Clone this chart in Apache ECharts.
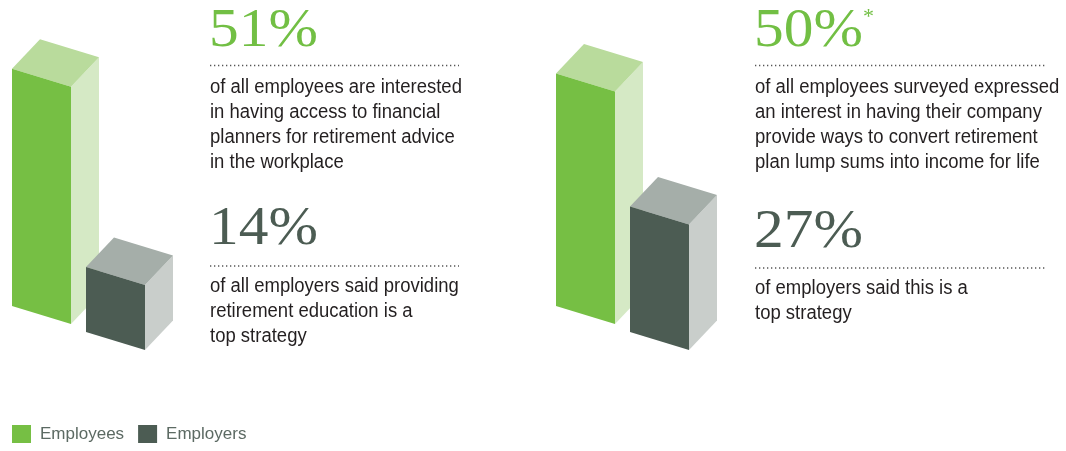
<!DOCTYPE html>
<html>
<head>
<meta charset="utf-8">
<script src="https://cdn.jsdelivr.net/npm/echarts@6/dist/echarts.min.js"></script>
<style>
  html, body { margin: 0; padding: 0; background: #ffffff; }
  #chart { width: 1066px; height: 451px; }
</style>
</head>
<body>
<div id="chart"></div>
<script>
// Survey topics, one 3D bar pair each
const groups = ['Financial planners', 'Lifetime income'];
const seriesNames = ['Employees', 'Employers'];
const employeesPct = [51, 50];
const employersPct = [14, 27];
const footnoteMarks = ['', '*'];
const employeeNotes = [
  ['of all employees are interested', 'in having access to financial', 'planners for retirement advice', 'in the workplace'],
  ['of all employees surveyed expressed', 'an interest in having their company', 'provide ways to convert retirement', 'plan lump sums into income for life']
];
const employerNotes = [
  ['of all employers said providing', 'retirement education is a', 'top strategy'],
  ['of employers said this is a', 'top strategy']
];

const palette = {
  Employees: { front: '#76bf44', top: '#b9db9c', side: '#d5e9c5' },
  Employers: { front: '#4c5c53', top: '#a5aea9', side: '#c9cecb' }
};

const BODY_FONT = '"Liberation Sans", Arial, sans-serif';
const NUM_FONT = '"Liberation Serif", "DejaVu Serif", serif';
const NARROW = 0.925; // squeeze body copy for a condensed look
const WIDE = 1.1;     // widen the big figures

// Isometric box: front face, top face and right side face
function boxRenderer(faces, groundShift) {
  return function (params, api) {
    const cat = api.value(0);
    const base = api.coord([cat, 0]);
    const top = api.coord([cat, api.value(1)]);
    const h = base[1] - top[1];
    const x = base[0] + groundShift[0];
    const yb = base[1] + groundShift[1];
    const w = 59, slope = 18, dx = 28, dy = -29.5;
    const bl = [x, yb], br = [x + w, yb + slope];
    const tr = [x + w, yb + slope - h], tl = [x, yb - h];
    const back = p => [p[0] + dx, p[1] + dy];
    return {
      type: 'group',
      children: [
        { type: 'polygon', shape: { points: [br, tr, back(tr), back(br)] }, style: { fill: faces.side } },
        { type: 'polygon', shape: { points: [tl, tr, back(tr), back(tl)] }, style: { fill: faces.top } },
        { type: 'polygon', shape: { points: [bl, br, tr, tl] }, style: { fill: faces.front } }
      ]
    };
  };
}

// Text blocks beside each bar pair
const textX = [209, 754];
const ruleEnd = [459, 1046];
const graphics = [];
groups.forEach((g, i) => {
  const x = textX[i];
  graphics.push({
    type: 'text', x: x, y: 5, scaleX: WIDE,
    style: { text: employeesPct[i] + '%', font: '54px ' + NUM_FONT, fill: '#72bf44', verticalAlign: 'top' }
  });
  if (footnoteMarks[i]) {
    graphics.push({
      type: 'text', x: x + 109, y: 6,
      style: { text: footnoteMarks[i], font: '22px ' + NUM_FONT, fill: '#72bf44', verticalAlign: 'top' }
    });
  }
  graphics.push({
    type: 'line', shape: { x1: x + 1, y1: 65.5, x2: ruleEnd[i], y2: 65.5 },
    style: { stroke: '#555', lineWidth: 1.3, lineDash: [1.3, 2.7] }
  });
  graphics.push({
    type: 'text', x: x + 1, y: 75.5, scaleX: NARROW,
    style: { text: employeeNotes[i].join('\n'), font: '20px ' + BODY_FONT, fill: '#231f20', lineHeight: 24.8, verticalAlign: 'top' }
  });
  const numY = i === 0 ? 203 : 206;
  graphics.push({
    type: 'text', x: x, y: numY, scaleX: WIDE,
    style: { text: employersPct[i] + '%', font: '54px ' + NUM_FONT, fill: '#4c5c53', verticalAlign: 'top' }
  });
  const dotY = i === 0 ? 266 : 268;
  graphics.push({
    type: 'line', shape: { x1: x + 1, y1: dotY, x2: ruleEnd[i], y2: dotY },
    style: { stroke: '#555', lineWidth: 1.3, lineDash: [1.3, 2.7] }
  });
  graphics.push({
    type: 'text', x: x + 1, y: dotY + 8, scaleX: NARROW,
    style: { text: employerNotes[i].join('\n'), font: '20px ' + BODY_FONT, fill: '#231f20', lineHeight: 24.8, verticalAlign: 'top' }
  });
});

const chart = echarts.init(document.getElementById('chart'), null, { renderer: 'canvas' });
chart.setOption({
  animation: false,
  backgroundColor: '#ffffff',
  grid: { left: 12, right: 510, top: 27, bottom: 145 },
  xAxis: { type: 'category', data: groups, boundaryGap: false, show: false },
  yAxis: { type: 'value', min: 0, max: 60, show: false },
  legend: {
    left: 12, top: 425, padding: 0,
    icon: 'rect', itemWidth: 19, itemHeight: 18, itemGap: 14,
    data: seriesNames,
    textStyle: { fontFamily: BODY_FONT, fontSize: 17, color: '#5c6a63', padding: [0, 0, 0, 4] }
  },
  series: [
    {
      name: seriesNames[0], type: 'custom',
      itemStyle: { color: palette.Employees.front },
      renderItem: boxRenderer(palette.Employees, [0, 0]),
      encode: { x: 0, y: 1 },
      data: employeesPct.map((v, i) => [i, v])
    },
    {
      name: seriesNames[1], type: 'custom',
      itemStyle: { color: palette.Employers.front },
      renderItem: boxRenderer(palette.Employers, [74, 26]),
      encode: { x: 0, y: 1 },
      data: employersPct.map((v, i) => [i, v])
    }
  ],
  graphic: graphics
});
</script>
</body>
</html>
